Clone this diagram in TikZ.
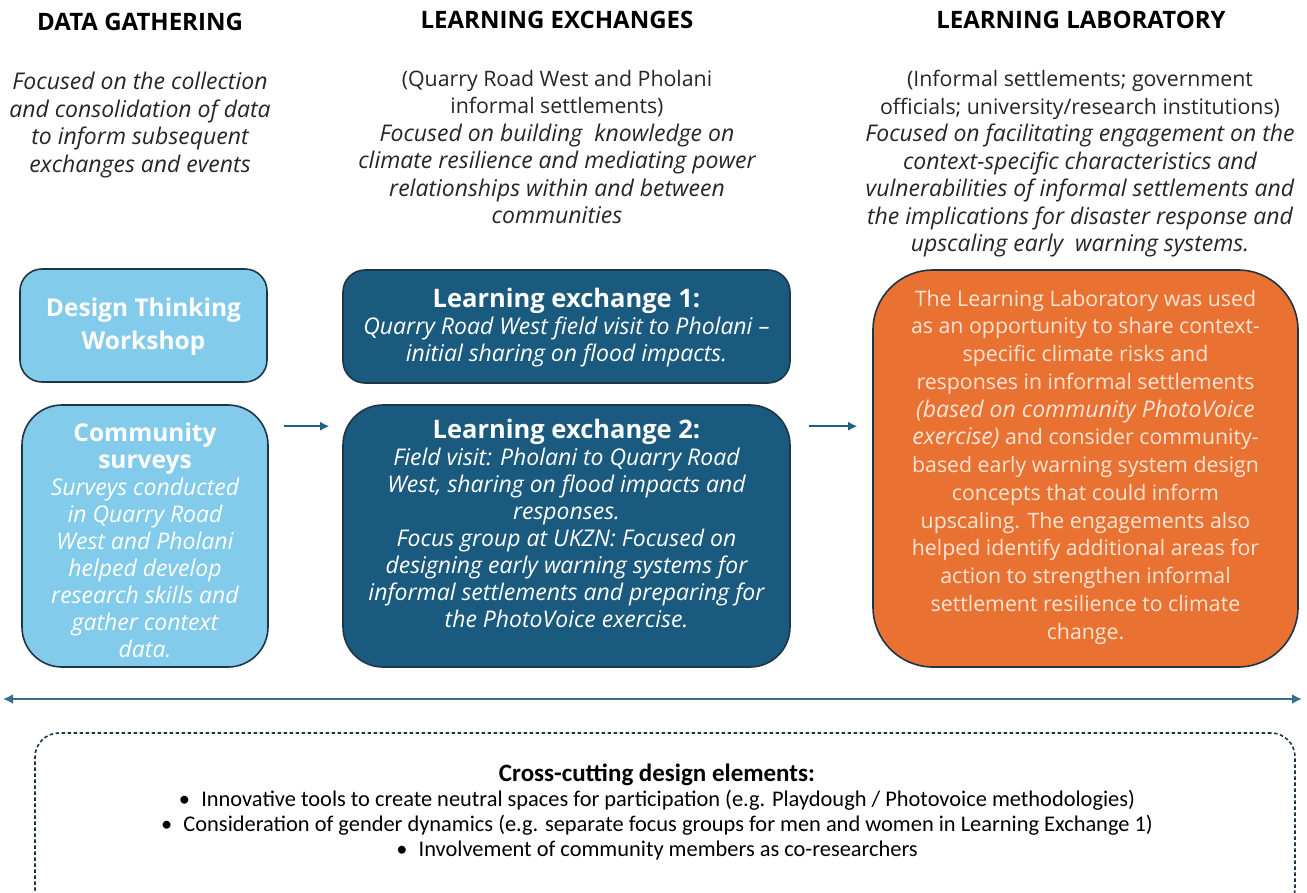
\documentclass[tikz,border=0pt]{standalone}
\usepackage{fontspec}
\setmainfont{Open Sans}
\newfontfamily\condfont{Carlito}
\usetikzlibrary{arrows.meta,calc}
\definecolor{lblue}{HTML}{83CBEB}
\definecolor{dblue}{HTML}{1A5A7E}
\definecolor{orng}{HTML}{E97132}
\definecolor{edgec}{HTML}{1E3546}
\definecolor{arrc}{HTML}{1F5F7F}
\definecolor{lltext}{HTML}{FBE5D6}
\definecolor{txt}{HTML}{262626}
\newcommand{\itx}{\fontsize{23}{27.5}\selectfont\itshape}
\newcommand{\upx}{\fontsize{21.3}{27.5}\selectfont}
\begin{document}
\begin{tikzpicture}[x=1pt,y=-1pt,
  hdr/.style={font=\bfseries\fontsize{24}{28}\selectfont, text=black},
  desc/.style={align=center, font=\fontsize{23}{27.5}\selectfont, text=txt},
  boxbase/.style={draw=edgec, line width=1.6pt, inner sep=0pt},
  lbbox/.style={boxbase, fill=lblue},
  dbbox/.style={boxbase, fill=dblue},
  orbox/.style={boxbase, fill=orng},
  boxtext/.style={align=center, font=\fontsize{23}{27}\selectfont},
  arr/.style={draw=arrc, line width=1.6pt, -{Latex[length=9pt,width=9pt]}},
  darr/.style={draw=arrc!90!white, line width=2.4pt, {Latex[length=10pt,width=10pt]}-{Latex[length=10pt,width=10pt]}}
]
\useasboundingbox (0,0) rectangle (1307,892);
\clip (0,0) rectangle (1307,892);
\fill[white] (0,0) rectangle (1307,892);

% headers
\node[hdr] (h1) at (140,22) {DATA GATHERING};
\node[hdr] (h2) at (557,20) {LEARNING EXCHANGES};
\node[hdr] (h3) at (1081,20) {LEARNING LABORATORY};

% descriptions
\node[desc] (d1) at (140,125) {\itx Focused on the collection\\\itx and consolidation of data\\\itx to inform subsequent\\\itx exchanges and events};
\node[desc] (d2) at (557,147) {\upx (Quarry Road West and Pholani\\\upx informal settlements)\\\itx Focused on building\ \ knowledge on\\\itx climate resilience and mediating power\\\itx relationships within and between\\\itx communities};
\node[desc] (d3) at (1080,164) {\upx (Informal settlements; government\\\upx officials; university/research institutions)\\\itx Focused on facilitating engagement on the\\\itx context-specific characteristics and\\\itx vulnerabilities of informal settlements and\\\itx the implications for disaster response and\\\itx upscaling early\ \ warning systems.};

% boxes
\node[lbbox, rounded corners=22pt, minimum width=247pt, minimum height=113pt] (dt) at (143.5,325.5) {};
\node[lbbox, rounded corners=40pt, minimum width=246pt, minimum height=262pt] (cs) at (145,536) {};
\node[dbbox, rounded corners=22pt, minimum width=447pt, minimum height=113pt] (le1) at (566.5,326.5) {};
\node[dbbox, rounded corners=40pt, minimum width=447pt, minimum height=262pt] (le2) at (566.5,536) {};
\node[orbox, rounded corners=60pt, minimum width=425pt, minimum height=397pt] (ll) at (1085.5,468.5) {};

% box texts
\node[boxtext, text=white, font=\bfseries\fontsize{24.5}{33}\selectfont] (dtt) at (143.5,327) {Design Thinking\\Workshop};
\node[boxtext, text=white] (cst) at (145,540) {{\bfseries\fontsize{24.5}{33}\selectfont Community}\\{\bfseries\fontsize{24.5}{33}\selectfont surveys}\\\itx Surveys conducted\\\itx in Quarry Road\\\itx West and Pholani\\\itx helped develop\\\itx research skills and\\\itx gather context\\\itx data.};
\node[boxtext, text=white] (le1t) at (566.5,328) {{\bfseries\fontsize{25.5}{27}\selectfont Learning exchange 1:}\\\itx Quarry Road West field visit to Pholani –\\\itx initial sharing on flood impacts.};
\node[boxtext, text=white] (le2t) at (566.5,523) {{\bfseries\fontsize{25.5}{27}\selectfont Learning exchange 2:}\\\itx Field visit: Pholani to Quarry Road\\\itx West, sharing on flood impacts and\\\itx responses.\\\itx Focus group at UKZN: Focused on\\\itx designing early warning systems for\\\itx informal settlements and preparing for\\\itx the PhotoVoice exercise.};
\node[boxtext, text=lltext, font=\fontsize{21.3}{27.75}\selectfont] (llt) at (1085.5,467) {The Learning Laboratory was used\\as an opportunity to share context-\\specific climate risks and\\responses in informal settlements\\{\itshape\fontsize{23}{27.75}\selectfont (based on community PhotoVoice}\\{\itshape\fontsize{23}{27.75}\selectfont exercise)} and consider community-\\based early warning system design\\concepts that could inform\\upscaling. The engagements also\\helped identify additional areas for\\action to strengthen informal\\settlement resilience to climate\\change.};

% arrows
\draw[arr] ($(cs.north east)+(15,22)$) -- ($(le2.north west)+(-13,22)$);
\draw[arr] ($(le2.north east)+(18,22)$) -- ($(ll.west |- le2.north)+(-15,22)$);

% long double arrow
\coordinate (la) at (3,699);
\coordinate (lb) at (1302,699);
\draw[darr] (la) -- (lb);

% dashed box
\node[draw=edgec, line width=1.6pt, dash pattern=on 3.5pt off 2.5pt, rounded corners=24pt, minimum width=1260pt, minimum height=180pt, inner sep=0pt] (cc) at (665,823) {};
\node[font=\condfont\fontsize{22.4}{25}\selectfont, align=center, text=black] (cct) at (657,812) {{\bfseries\fontsize{25}{29}\selectfont Cross-cutting design elements:}\\\textbullet\enspace Innovative tools to create neutral spaces for participation (e.g. Playdough / Photovoice methodologies)\\\textbullet\enspace Consideration of gender dynamics (e.g. separate focus groups for men and women in Learning Exchange 1)\\\textbullet\enspace Involvement of community members as co-researchers};
\end{tikzpicture}
\end{document}
